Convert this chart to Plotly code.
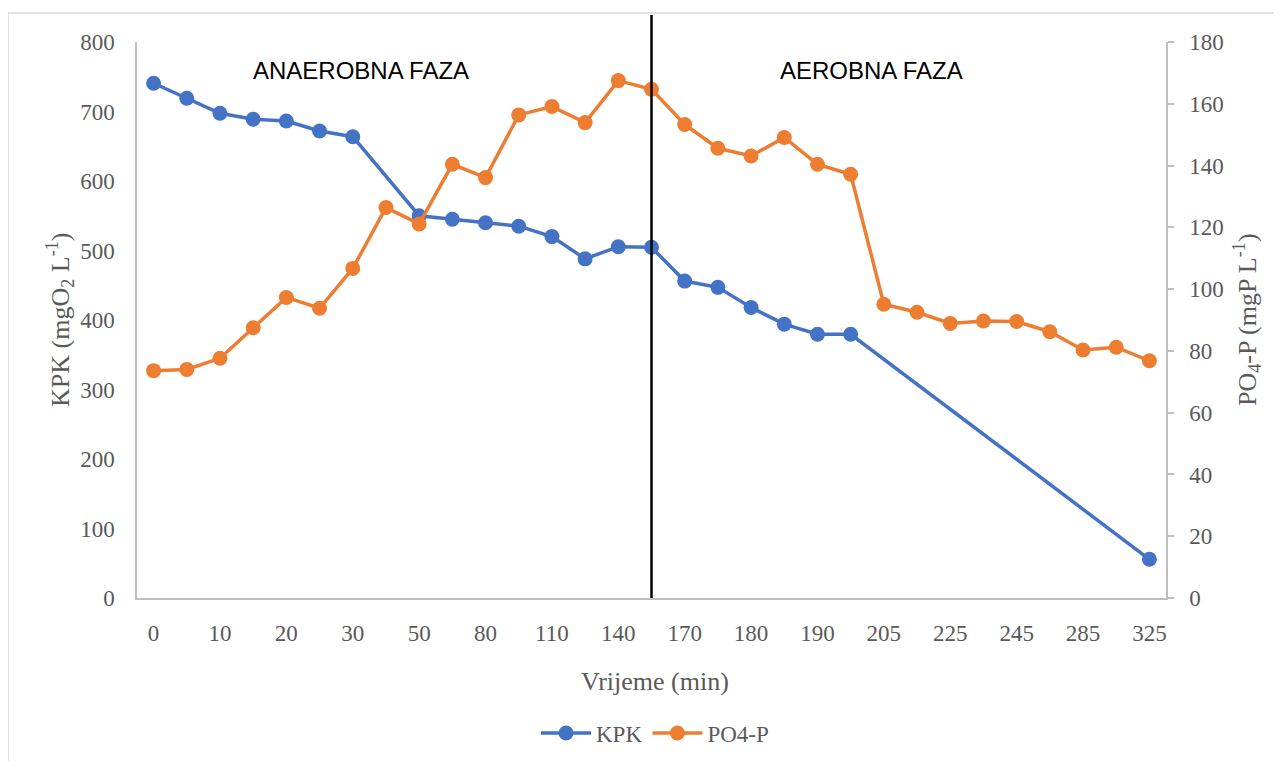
import plotly.graph_objects as go

# Time categories (min); only every other one is labelled on the axis
time_min = ["0", "5", "10", "15", "20", "25", "30", "40", "50", "60", "80", "95",
            "110", "125", "140", "155", "170", "175", "180", "185", "190", "200",
            "205", "215", "225", "235", "245", "265", "285", "305", "325"]
tick_labels = ["0", "10", "20", "30", "50", "80", "110", "140", "170", "180",
               "190", "205", "225", "245", "285", "325"]

kpk = [740.6, 719, 697.4, 688.8, 686.3, 671.9, 663.7, None, 550, 545, 540, 535,
       520, 488, 505.5, 504.6, 456, 447, 418, 394, 379.5, 379.5,
       None, None, None, None, None, None, None, None, 55.7]

po4p = [73.6, 74.0, 77.6, 87.5, 97.3, 93.8, 106.7, 126.4, 121.1, 140.4, 136.1, 156.4,
        159.1, 153.9, 167.5, 164.7, 153.3, 145.6, 143.1, 149.1, 140.4, 137.2,
        95.1, 92.5, 88.9, 89.7, 89.5, 86.2, 80.3, 81.2, 76.8]

phase_boundary = "155"
phase_labels = ["ANAEROBNA FAZA", "AEROBNA FAZA"]

BLUE = "#4472C4"
ORANGE = "#ED7D31"
GRAY_TXT = "#595959"
AXIS_GRAY = "#BFBFBF"
SERIF = "Liberation Serif, Times New Roman, serif"
SANS = "Liberation Sans, Arial, sans-serif"

fig = go.Figure()
fig.add_trace(go.Scatter(
    x=time_min, y=kpk, name="KPK", mode="lines+markers", connectgaps=True,
    line=dict(color=BLUE, width=3.5), marker=dict(color=BLUE, size=15),
    yaxis="y"))
fig.add_trace(go.Scatter(
    x=time_min, y=po4p, name="PO4-P", mode="lines+markers", connectgaps=True,
    line=dict(color=ORANGE, width=3.5), marker=dict(color=ORANGE, size=15),
    yaxis="y2"))

OFF = 8  # browser body margin
W, H = 1282 - OFF, 761 - OFF
L, R, T, B = 137 - OFF, 1166 - OFF, 42 - OFF, 598 - OFF
pw, ph = R - L, B - T

def px(xp):
    return (xp - OFF - L) / pw

def py(yp):
    return (B - (yp - OFF)) / ph

fig.update_layout(
    width=W, height=H,
    margin=dict(l=L, r=W - R, t=T, b=H - B, autoexpand=False),
    paper_bgcolor="white", plot_bgcolor="white",
    font=dict(family=SERIF, size=23, color=GRAY_TXT),
    xaxis=dict(type="category", categoryorder="array", categoryarray=time_min,
               range=[-0.5, len(time_min) - 0.5], automargin=False,
               tickmode="array", tickvals=tick_labels, ticktext=tick_labels,
               showgrid=False, showline=True, linecolor=AXIS_GRAY, linewidth=1.5,
               ticks="", ticklabelstandoff=14, zeroline=False,
               tickfont=dict(family=SERIF, size=23, color=GRAY_TXT)),
    yaxis=dict(range=[0, 800], dtick=100, showgrid=False, showline=True, automargin=False,
               linecolor=AXIS_GRAY, linewidth=1.5, ticks="", zeroline=False,
               ticklabelstandoff=16,
               tickfont=dict(family=SERIF, size=23, color=GRAY_TXT)),
    yaxis2=dict(range=[0, 180], dtick=20, overlaying="y", side="right", automargin=False,
                showgrid=False, showline=True, linecolor=AXIS_GRAY, linewidth=1.5,
                ticks="outside", ticklen=6, tickcolor=AXIS_GRAY, tickwidth=1.5,
                ticklabelstandoff=11, zeroline=False,
                tickfont=dict(family=SERIF, size=23, color=GRAY_TXT)),
    legend=dict(orientation="h", x=px(655), xanchor="center", y=py(733),
                yanchor="middle", font=dict(family=SERIF, size=23, color=GRAY_TXT),
                itemwidth=50, bgcolor="rgba(0,0,0,0)"),
    showlegend=True,
)

# Phase separator (at the category index of the boundary) and chart border
bx = time_min.index(phase_boundary)
fig.add_shape(type="line", xref="x", yref="paper", x0=bx, x1=bx,
              y0=0, y1=py(15), line=dict(color="black", width=2.5))
fig.add_shape(type="rect", xref="paper", yref="paper",
              x0=px(8), x1=px(1295), y0=py(775), y1=py(13),
              line=dict(color="#D9D9D9", width=1.5), fillcolor="rgba(0,0,0,0)", layer="below")

# Phase labels
fig.add_annotation(text=phase_labels[0], xref="paper", yref="paper", x=px(361), y=py(70),
                   showarrow=False, xanchor="center", yanchor="middle",
                   font=dict(family=SANS, size=24, color="black"))
fig.add_annotation(text=phase_labels[1], xref="paper", yref="paper", x=px(871), y=py(70),
                   showarrow=False, xanchor="center", yanchor="middle",
                   font=dict(family=SANS, size=24, color="black"))

# Axis titles
fig.add_annotation(text="KPK (mgO<sub>2</sub> L<sup>-1</sup>)", xref="paper", yref="paper",
                   x=px(60), y=0.5, textangle=-90, showarrow=False,
                   xanchor="center", yanchor="middle",
                   font=dict(family=SERIF, size=26, color=GRAY_TXT))
fig.add_annotation(text="PO<sub>4</sub>-P (mgP L<sup>-1</sup>)", xref="paper", yref="paper",
                   x=px(1247), y=0.5, textangle=-90, showarrow=False,
                   xanchor="center", yanchor="middle",
                   font=dict(family=SERIF, size=26, color=GRAY_TXT))
fig.add_annotation(text="Vrijeme (min)", xref="paper", yref="paper",
                   x=px(655), y=py(681), showarrow=False,
                   xanchor="center", yanchor="middle",
                   font=dict(family=SERIF, size=26, color=GRAY_TXT))

fig.write_html("out.html")
